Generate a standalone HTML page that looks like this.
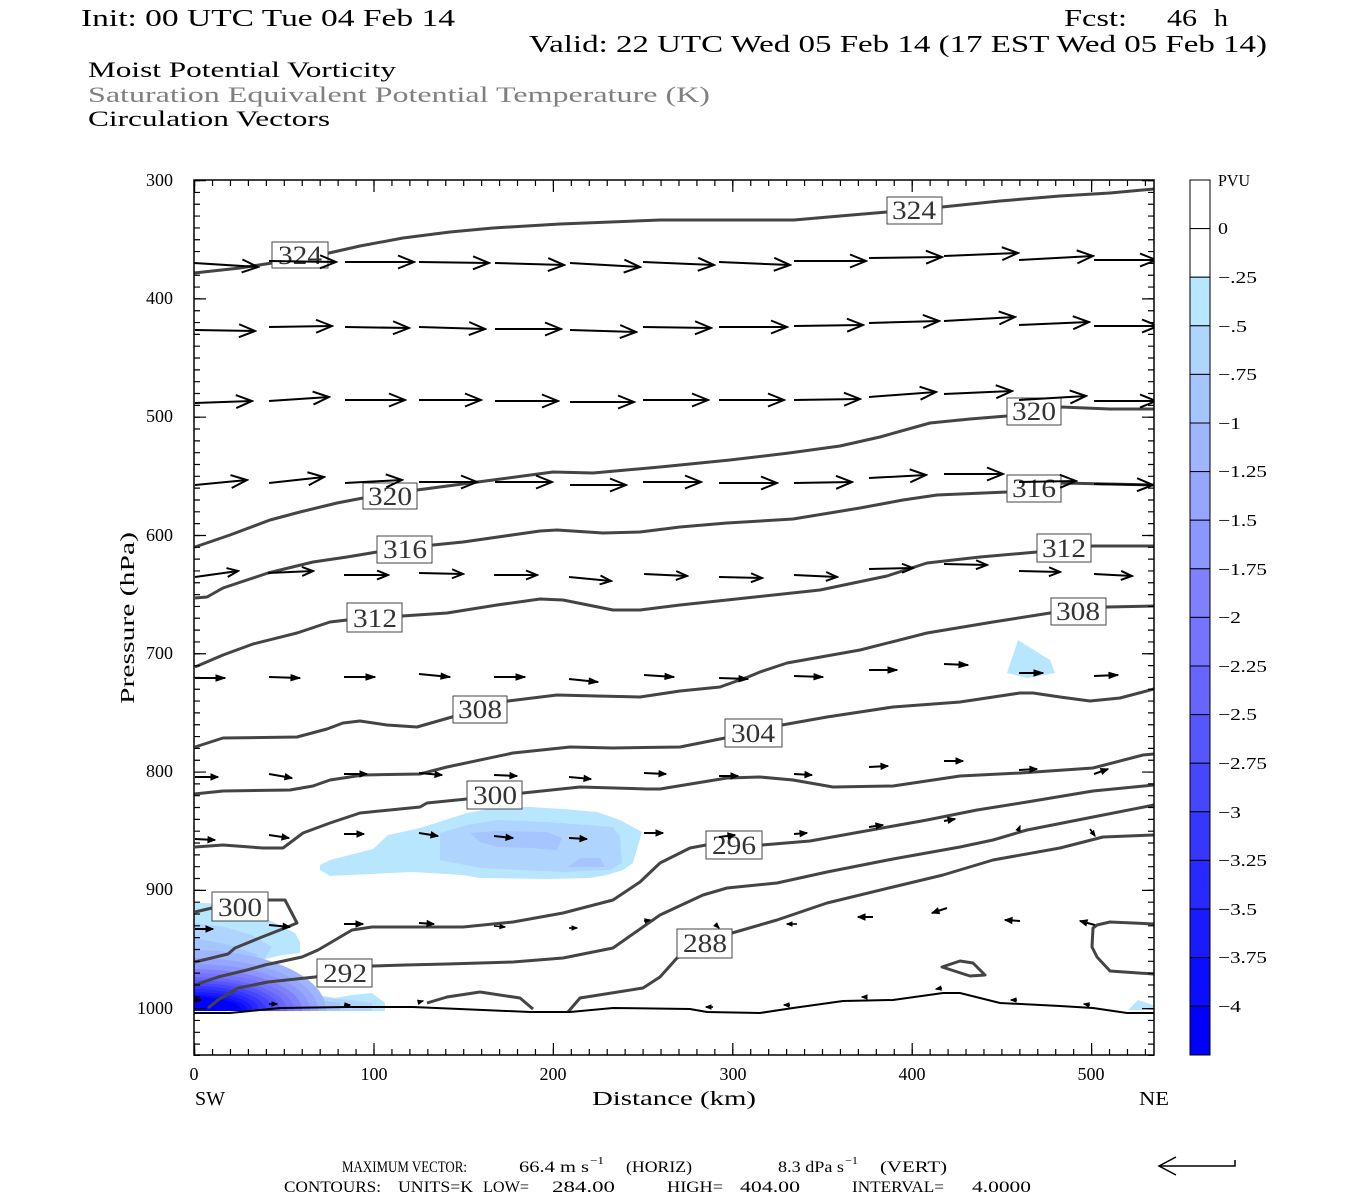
<!DOCTYPE html>
<html><head><meta charset="utf-8"><style>
html,body{margin:0;padding:0;background:#fff;}
svg{display:block;}
</style></head><body>
<svg width="1350" height="1200" viewBox="0 0 1350 1200" xmlns="http://www.w3.org/2000/svg" font-family="'Liberation Serif','DejaVu Serif',serif">
<defs>
<marker id="mL" markerUnits="userSpaceOnUse" markerWidth="20" markerHeight="17" viewBox="-2 -2 20 17" refX="16" refY="6.5" orient="auto"><path d="M0,0 L16,6.5 L0,13" fill="none" stroke="#000" stroke-width="2"/></marker>
<marker id="mM" markerUnits="userSpaceOnUse" markerWidth="15" markerHeight="13" viewBox="-2 -2 15 13" refX="11" refY="4.5" orient="auto"><path d="M0,0 L11,4.5 L0,9" fill="none" stroke="#000" stroke-width="2"/></marker>
<marker id="mS" markerUnits="userSpaceOnUse" markerWidth="11" markerHeight="8" viewBox="-1 -1 11 8" refX="9" refY="3" orient="auto"><path d="M0,0 L9,3 L0,6 Z" fill="#000" stroke="#000" stroke-width="1"/></marker>
<marker id="mX" markerUnits="userSpaceOnUse" markerWidth="9" markerHeight="8" viewBox="-1 -1 9 8" refX="7" refY="3" orient="auto"><path d="M0,0 L7,3 L0,6 Z" fill="#000" stroke="#000" stroke-width="1"/></marker>
<marker id="mT" markerUnits="userSpaceOnUse" markerWidth="7" markerHeight="6" viewBox="-1 -1 7 6" refX="5" refY="2" orient="auto"><path d="M0,0 L5,2 L0,4 Z" fill="#000" stroke="#000" stroke-width="1"/></marker>
<clipPath id="plot"><rect x="194" y="180" width="960" height="831"/></clipPath>
<clipPath id="plotall"><rect x="194" y="180" width="960" height="875"/></clipPath>
</defs>

<!-- Titles -->
<text x="81" y="26" font-size="24" textLength="374" lengthAdjust="spacingAndGlyphs">Init: 00 UTC Tue 04 Feb 14</text>
<text x="1064" y="26" font-size="24" textLength="63" lengthAdjust="spacingAndGlyphs">Fcst:</text>
<text x="1167" y="26" font-size="24" textLength="30" lengthAdjust="spacingAndGlyphs">46</text>
<text x="1214" y="26" font-size="24" textLength="14" lengthAdjust="spacingAndGlyphs">h</text>
<text x="529" y="52" font-size="24" textLength="738" lengthAdjust="spacingAndGlyphs">Valid: 22 UTC Wed 05 Feb 14 (17 EST Wed 05 Feb 14)</text>
<text x="88" y="77" font-size="22" textLength="308" lengthAdjust="spacingAndGlyphs">Moist Potential Vorticity</text>
<text x="88" y="102" font-size="22" fill="#7f7f7f" textLength="622" lengthAdjust="spacingAndGlyphs">Saturation Equivalent Potential Temperature (K)</text>
<text x="88" y="126" font-size="22" textLength="242" lengthAdjust="spacingAndGlyphs">Circulation Vectors</text>

<!-- Shading -->
<g clip-path="url(#plot)">
<polygon fill="#b9e6ff" points="320,865 330,860 373,849 388,835 420,828 467,813 500,807 530,807 563,809 597,812 620,820 642,832 633,863 623,870 607,875 590,878 547,879 480,878 463,875 413,872 330,876 320,870"/>
<polygon fill="#afd5ff" points="440,833 467,825 497,820 547,822 613,827 620,837 622,863 610,870 563,872 480,868 440,860"/>
<polygon fill="#a6c5ff" points="470,833 497,831 547,832 562,838 557,850 530,848 497,847 480,842"/>
<polygon fill="#a6c5ff" points="568,867 580,858 600,858 605,867"/>
<polygon fill="#b9e6ff" points="1018,640 1037,652 1050,660 1055,673 1027,678 1007,673"/>
<polygon fill="#b9e6ff" points="1128,1010 1138,1000 1153,1005 1153,1010"/>
<polygon fill="#b9e6ff" points="194,903 205,903 228,905 252,912 275,923 295,933 300,942 300,953 282,955 262,960 255,970 258,983 285,988 318,995 335,998 352,995 372,993 385,1003 385,1011 194,1011"/>
<polygon fill="#afd5ff" points="194,923 225,927 252,935 272,947 265,958 250,966 252,980 280,988 320,997 350,1000 372,1003 372,1011 194,1011"/>
<polygon fill="#a6c5ff" points="194,938 230,945 258,955 245,965 240,975 255,987 300,997 340,1003 340,1011 194,1011"/>
<ellipse cx="194" cy="1010" rx="132" ry="60" fill="#9fb5ff"/>
<ellipse cx="194" cy="1010" rx="124" ry="52" fill="#96a6ff"/>
<ellipse cx="194" cy="1010" rx="116" ry="46" fill="#8c96ff"/>
<ellipse cx="194" cy="1010" rx="108" ry="41" fill="#8080ff"/>
<ellipse cx="194" cy="1010" rx="100" ry="37" fill="#7474ff"/>
<ellipse cx="194" cy="1010" rx="93" ry="33" fill="#6666ff"/>
<ellipse cx="194" cy="1010" rx="86" ry="30" fill="#5656ff"/>
<ellipse cx="194" cy="1010" rx="79" ry="27" fill="#4646ff"/>
<ellipse cx="194" cy="1010" rx="72" ry="24" fill="#3636ff"/>
<ellipse cx="194" cy="1010" rx="65" ry="21" fill="#2828ff"/>
<ellipse cx="194" cy="1010" rx="59" ry="18" fill="#1a1aff"/>
<ellipse cx="194" cy="1010" rx="53" ry="15" fill="#0c0cff"/>
<ellipse cx="194" cy="1010" rx="47" ry="13" fill="#0000ff"/>
</g>

<!-- Contours -->
<g fill="none" stroke="#444" stroke-width="3" stroke-linejoin="round" clip-path="url(#plotall)">
<polyline points="194,273 240,268 272,263 300,258 329,253 360,246 403,238 450,232 493,228 560,224 660,220 794,220 840,216 887,212 942,207 1000,201 1060,196 1110,193 1154,189"/>
<polyline points="195,547 230,535 270,520 300,512 337,503 363,498 417,490 493,480 553,472 593,473 660,467 730,460 789,453 840,446 880,437 930,423 970,419 1007,416 1061,407 1110,409 1154,409"/>
<polyline points="195,598 207,597 223,588 268,573 313,562 347,557 377,552 433,545 463,542 540,531 557,530 603,533 640,532 680,527 727,523 793,519 860,508 903,500 937,495 1007,492 1061,483 1154,485"/>
<polyline points="195,667 223,655 253,644 297,633 330,622 347,620 402,616 447,613 497,605 540,599 563,600 613,610 640,610 680,605 727,600 820,590 887,576 927,563 980,557 1037,552 1093,546 1154,546"/>
<polyline points="195,747 223,738 297,737 327,729 343,723 360,721 387,725 417,727 452,717 508,701 557,695 597,696 640,697 680,691 720,687 748,677 760,672 787,663 860,650 927,633 993,622 1050,613 1107,607 1154,606"/>
<polyline points="194,794 223,791 290,790 313,786 330,780 363,775 420,774 447,767 513,753 570,747 613,748 680,747 725,738 782,725 827,717 893,707 960,702 1020,693 1033,693 1060,697 1090,701 1120,698 1154,689"/>
<polyline points="195,847 223,845 263,848 283,848 303,833 330,823 360,813 420,807 427,803 467,799 523,793 580,787 647,789 660,789 727,778 760,777 793,780 833,787 893,786 960,776 1020,773 1093,768 1143,755 1154,754"/>
<polyline points="195,912 212,908 267,900 285,900 297,923 285,928 262,937 235,948 228,954 195,962"/>
<polyline points="195,985 218,977 247,970 265,965 302,957 318,950 330,943 352,930 372,927 413,927 463,927 513,922 563,913 613,900 640,882 660,863 690,848 706,845 762,845 810,841 860,832 927,820 977,810 1027,802 1093,791 1154,785"/>
<polyline points="208,1008 218,1000 230,993 238,988 268,982 315,977 373,966 405,965 447,964 513,962 563,958 613,948 660,915 703,895 727,888 777,883 827,872 893,859 960,847 993,840 1027,830 1093,817 1154,805"/>
<polyline points="568,1012 580,998 643,988 660,977 677,958 732,933 777,920 827,903 893,887 943,875 993,860 1060,848 1103,837 1154,835"/>
<polyline points="427,1003 447,997 480,992 520,998 533,1009"/>
<polyline points="1154,924 1110,922 1097,925 1093,928 1092,947 1097,957 1110,971 1154,974"/>
<polygon points="942,967 960,961 973,963 985,975 970,976"/>
</g>
<!-- terrain line -->
<polyline fill="none" stroke="#000" stroke-width="2" points="194,1013 230,1013 280,1008 347,1007 413,1007 530,1012 570,1012 613,1008 690,1009 707,1012 760,1013 793,1008 843,1001 893,1000 943,993 960,993 1000,1003 1060,1006 1093,1008 1127,1013 1154,1013"/>

<!-- Contour labels -->
<g fill="#fff" stroke="#444" stroke-width="1">
<rect x="272" y="242" width="56" height="26"/>
<rect x="887" y="197" width="55" height="27"/>
<rect x="363" y="483" width="54" height="26"/>
<rect x="1007" y="398" width="54" height="27"/>
<rect x="377" y="536" width="55" height="27"/>
<rect x="1007" y="475" width="54" height="27"/>
<rect x="347" y="603" width="55" height="29"/>
<rect x="1037" y="534" width="54" height="28"/>
<rect x="453" y="696" width="54" height="27"/>
<rect x="1051" y="598" width="55" height="27"/>
<rect x="725" y="719" width="57" height="28"/>
<rect x="467" y="781" width="55" height="28"/>
<rect x="212" y="892" width="56" height="29"/>
<rect x="706" y="831" width="56" height="28"/>
<rect x="317" y="959" width="55" height="28"/>
<rect x="677" y="929" width="55" height="29"/>
</g>
<g font-size="26" fill="#333" text-anchor="middle">
<text x="300" y="264" textLength="44" lengthAdjust="spacingAndGlyphs">324</text>
<text x="914" y="219" textLength="44" lengthAdjust="spacingAndGlyphs">324</text>
<text x="390" y="505" textLength="44" lengthAdjust="spacingAndGlyphs">320</text>
<text x="1034" y="420" textLength="44" lengthAdjust="spacingAndGlyphs">320</text>
<text x="405" y="558" textLength="44" lengthAdjust="spacingAndGlyphs">316</text>
<text x="1034" y="497" textLength="44" lengthAdjust="spacingAndGlyphs">316</text>
<text x="375" y="627" textLength="44" lengthAdjust="spacingAndGlyphs">312</text>
<text x="1064" y="557" textLength="44" lengthAdjust="spacingAndGlyphs">312</text>
<text x="480" y="718" textLength="44" lengthAdjust="spacingAndGlyphs">308</text>
<text x="1078" y="620" textLength="44" lengthAdjust="spacingAndGlyphs">308</text>
<text x="753" y="742" textLength="44" lengthAdjust="spacingAndGlyphs">304</text>
<text x="495" y="804" textLength="44" lengthAdjust="spacingAndGlyphs">300</text>
<text x="240" y="916" textLength="44" lengthAdjust="spacingAndGlyphs">300</text>
<text x="734" y="854" textLength="44" lengthAdjust="spacingAndGlyphs">296</text>
<text x="345" y="982" textLength="44" lengthAdjust="spacingAndGlyphs">292</text>
<text x="705" y="952" textLength="44" lengthAdjust="spacingAndGlyphs">288</text>
</g>

<!-- Vectors -->
<g stroke="#000" stroke-width="2" clip-path="url(#plotall)">
<g marker-end="url(#mL)">
<line x1="194" y1="263" x2="258" y2="267"/><line x1="269" y1="261" x2="336" y2="262"/><line x1="345" y1="262" x2="414" y2="262"/><line x1="419" y1="262" x2="489" y2="263"/><line x1="495" y1="263" x2="564" y2="265"/><line x1="570" y1="263" x2="640" y2="267"/><line x1="643" y1="262" x2="714" y2="265"/><line x1="719" y1="262" x2="790" y2="265"/><line x1="794" y1="261" x2="866" y2="261"/><line x1="869" y1="258" x2="942" y2="257"/><line x1="944" y1="256" x2="1018" y2="253"/><line x1="1019" y1="260" x2="1093" y2="256"/><line x1="1094" y1="260" x2="1156" y2="260"/>
<line x1="195" y1="330" x2="255" y2="331"/><line x1="269" y1="327" x2="332" y2="326"/><line x1="345" y1="327" x2="409" y2="328"/><line x1="419" y1="327" x2="485" y2="329"/><line x1="495" y1="329" x2="561" y2="329"/><line x1="570" y1="330" x2="636" y2="332"/><line x1="643" y1="327" x2="711" y2="328"/><line x1="719" y1="327" x2="787" y2="327"/><line x1="794" y1="326" x2="863" y2="325"/><line x1="869" y1="323" x2="939" y2="321"/><line x1="944" y1="321" x2="1015" y2="317"/><line x1="1019" y1="325" x2="1089" y2="322"/><line x1="1094" y1="326" x2="1158" y2="326"/>
<line x1="195" y1="403" x2="252" y2="401"/><line x1="269" y1="401" x2="329" y2="397"/><line x1="345" y1="400" x2="405" y2="400"/><line x1="419" y1="400" x2="481" y2="400"/><line x1="495" y1="401" x2="558" y2="401"/><line x1="570" y1="402" x2="634" y2="402"/><line x1="643" y1="400" x2="708" y2="400"/><line x1="719" y1="400" x2="784" y2="400"/><line x1="794" y1="400" x2="860" y2="399"/><line x1="869" y1="397" x2="936" y2="392"/><line x1="944" y1="394" x2="1012" y2="391"/><line x1="1019" y1="400" x2="1086" y2="396"/><line x1="1094" y1="401" x2="1156" y2="401"/>
<line x1="195" y1="485" x2="247" y2="480"/><line x1="269" y1="483" x2="324" y2="477"/><line x1="345" y1="483" x2="402" y2="480"/><line x1="419" y1="482" x2="477" y2="482"/><line x1="495" y1="482" x2="552" y2="482"/><line x1="570" y1="485" x2="626" y2="485"/><line x1="643" y1="482" x2="701" y2="482"/><line x1="719" y1="483" x2="777" y2="483"/><line x1="794" y1="483" x2="852" y2="482"/><line x1="869" y1="478" x2="926" y2="475"/><line x1="944" y1="474" x2="1003" y2="474"/><line x1="1019" y1="482" x2="1076" y2="481"/><line x1="1094" y1="484" x2="1153" y2="485"/>
</g>
<g marker-end="url(#mM)">
<line x1="195" y1="577" x2="238" y2="571"/><line x1="268" y1="573" x2="313" y2="571"/><line x1="344" y1="575" x2="388" y2="575"/><line x1="419" y1="573" x2="463" y2="574"/><line x1="494" y1="575" x2="537" y2="575"/><line x1="569" y1="577" x2="611" y2="581"/><line x1="644" y1="574" x2="687" y2="576"/><line x1="719" y1="577" x2="762" y2="578"/><line x1="794" y1="575" x2="837" y2="577"/><line x1="869" y1="569" x2="913" y2="568"/><line x1="944" y1="564" x2="987" y2="565"/><line x1="1019" y1="571" x2="1060" y2="572"/><line x1="1094" y1="574" x2="1132" y2="576"/>
</g>
<g marker-end="url(#mS)">
<line x1="195" y1="678" x2="225" y2="678"/><line x1="269" y1="677" x2="300" y2="678"/><line x1="344" y1="677" x2="375" y2="677"/><line x1="419" y1="674" x2="450" y2="677"/><line x1="494" y1="677" x2="525" y2="677"/><line x1="569" y1="679" x2="598" y2="682"/><line x1="644" y1="675" x2="674" y2="677"/><line x1="719" y1="678" x2="748" y2="679"/><line x1="794" y1="676" x2="823" y2="677"/><line x1="869" y1="670" x2="897" y2="670"/><line x1="944" y1="664" x2="968" y2="665"/><line x1="1019" y1="673" x2="1043" y2="673"/><line x1="1094" y1="676" x2="1118" y2="675"/>
</g>
<g marker-end="url(#mX)">
<line x1="195" y1="777" x2="218" y2="777"/><line x1="269" y1="774" x2="292" y2="778"/><line x1="344" y1="774" x2="367" y2="774"/><line x1="419" y1="773" x2="442" y2="775"/><line x1="494" y1="775" x2="517" y2="776"/><line x1="569" y1="777" x2="591" y2="779"/><line x1="644" y1="773" x2="666" y2="774"/><line x1="719" y1="776" x2="738" y2="776"/><line x1="794" y1="774" x2="812" y2="775"/><line x1="869" y1="767" x2="888" y2="766"/><line x1="944" y1="761" x2="963" y2="761"/><line x1="1019" y1="770" x2="1037" y2="769"/><line x1="1094" y1="774" x2="1108" y2="769"/>
<line x1="195" y1="839" x2="215" y2="840"/><line x1="269" y1="835" x2="289" y2="838"/><line x1="344" y1="834" x2="364" y2="834"/><line x1="419" y1="833" x2="438" y2="836"/><line x1="494" y1="836" x2="513" y2="838"/><line x1="569" y1="838" x2="587" y2="839"/><line x1="644" y1="833" x2="663" y2="833"/><line x1="719" y1="837" x2="735" y2="835"/><line x1="794" y1="834" x2="807" y2="833"/><line x1="869" y1="827" x2="883" y2="825"/><line x1="944" y1="821" x2="955" y2="819"/>
<line x1="195" y1="929" x2="213" y2="929"/><line x1="269" y1="925" x2="290" y2="927"/><line x1="344" y1="924" x2="363" y2="924"/><line x1="419" y1="923" x2="434" y2="924"/>
<line x1="873" y1="917" x2="858" y2="917"/><line x1="947" y1="908" x2="932" y2="913"/><line x1="1020" y1="921" x2="1005" y2="920"/><line x1="1095" y1="925" x2="1080" y2="921"/>
</g>
<g marker-end="url(#mT)" stroke-width="1.6">
<line x1="1018" y1="831" x2="1020" y2="826"/><line x1="1090" y1="829" x2="1095" y2="836"/>
<line x1="494" y1="926" x2="505" y2="927"/><line x1="569" y1="928" x2="577" y2="928"/><line x1="644" y1="921" x2="650" y2="920"/><line x1="715" y1="924" x2="719" y2="928"/><line x1="797" y1="924" x2="787" y2="924"/>
<line x1="194" y1="1000" x2="201" y2="1000"/><line x1="269" y1="1004" x2="277" y2="1004"/><line x1="344" y1="1005" x2="350" y2="1005"/><line x1="419" y1="1002" x2="423" y2="1001"/><line x1="713" y1="1007" x2="706" y2="1007"/><line x1="790" y1="1005" x2="784" y2="1005"/><line x1="867" y1="997" x2="862" y2="997"/><line x1="942" y1="988" x2="936" y2="989"/><line x1="1017" y1="1000" x2="1011" y2="1000"/><line x1="1090" y1="1005" x2="1084" y2="1004"/>
</g>
</g>

<!-- Frame and ticks -->
<rect x="194" y="180" width="960" height="875" fill="none" stroke="#000" stroke-width="1.5"/>
<g stroke="#000">
<line x1="194" y1="183" x2="1154" y2="183" stroke-width="6" stroke-dasharray="1.2 16.74"/>
<line x1="194" y1="186" x2="1154" y2="186" stroke-width="12" stroke-dasharray="1.2 178.2"/>
<line x1="194" y1="1052" x2="1154" y2="1052" stroke-width="6" stroke-dasharray="1.2 16.74"/>
<line x1="194" y1="1049" x2="1154" y2="1049" stroke-width="12" stroke-dasharray="1.2 178.2"/>
<line x1="197" y1="180" x2="197" y2="1056" stroke-width="6" stroke-dasharray="1.2 10.629"/>
<line x1="200" y1="180" x2="200" y2="1056" stroke-width="12" stroke-dasharray="1.2 117.09"/>
<line x1="1151" y1="180" x2="1151" y2="1056" stroke-width="6" stroke-dasharray="1.2 10.629"/>
<line x1="1148" y1="180" x2="1148" y2="1056" stroke-width="12" stroke-dasharray="1.2 117.09"/>
</g>

<!-- Axis labels -->
<g font-size="18" text-anchor="end">
<text x="173" y="186">300</text>
<text x="173" y="304">400</text>
<text x="173" y="422">500</text>
<text x="173" y="541">600</text>
<text x="173" y="659">700</text>
<text x="173" y="777">800</text>
<text x="173" y="895">900</text>
<text x="173" y="1014">1000</text>
</g>
<text transform="translate(134,618) rotate(-90)" font-size="20" text-anchor="middle" textLength="172" lengthAdjust="spacingAndGlyphs">Pressure (hPa)</text>
<g font-size="18" text-anchor="middle">
<text x="194" y="1080">0</text>
<text x="374" y="1080">100</text>
<text x="553" y="1080">200</text>
<text x="733" y="1080">300</text>
<text x="912" y="1080">400</text>
<text x="1091" y="1080">500</text>
</g>
<text x="195" y="1105" font-size="20" textLength="30" lengthAdjust="spacingAndGlyphs">SW</text>
<text x="592" y="1105" font-size="20" textLength="164" lengthAdjust="spacingAndGlyphs">Distance (km)</text>
<text x="1139" y="1105" font-size="20" textLength="30" lengthAdjust="spacingAndGlyphs">NE</text>

<!-- Bottom info -->
<g font-size="16">
<text x="342" y="1172" textLength="125" lengthAdjust="spacingAndGlyphs">MAXIMUM VECTOR:</text>
<text x="519" y="1172" textLength="70" lengthAdjust="spacingAndGlyphs">66.4 m s</text>
<text x="590" y="1164" font-size="11" textLength="14" lengthAdjust="spacingAndGlyphs">−1</text>
<text x="626" y="1172" textLength="66" lengthAdjust="spacingAndGlyphs">(HORIZ)</text>
<text x="778" y="1172" textLength="66" lengthAdjust="spacingAndGlyphs">8.3 dPa s</text>
<text x="845" y="1164" font-size="11" textLength="13" lengthAdjust="spacingAndGlyphs">−1</text>
<text x="880" y="1172" textLength="67" lengthAdjust="spacingAndGlyphs">(VERT)</text>
<text x="284" y="1192" textLength="97" lengthAdjust="spacingAndGlyphs">CONTOURS:</text>
<text x="398" y="1192" textLength="75" lengthAdjust="spacingAndGlyphs">UNITS=K</text>
<text x="483" y="1192" textLength="46" lengthAdjust="spacingAndGlyphs">LOW=</text>
<text x="552" y="1192" textLength="63" lengthAdjust="spacingAndGlyphs">284.00</text>
<text x="667" y="1192" textLength="56" lengthAdjust="spacingAndGlyphs">HIGH=</text>
<text x="740" y="1192" textLength="60" lengthAdjust="spacingAndGlyphs">404.00</text>
<text x="852" y="1192" textLength="92" lengthAdjust="spacingAndGlyphs">INTERVAL=</text>
<text x="972" y="1192" textLength="59" lengthAdjust="spacingAndGlyphs">4.0000</text>
</g>
<path d="M1235,1160 L1235,1166 L1159,1166 M1176,1157 L1159,1166 L1176,1175" fill="none" stroke="#000" stroke-width="1.5"/>

<!-- Colorbar -->
<g stroke="#000" stroke-width="1">
<rect x="1190" y="180" width="20" height="48.6" fill="#fff"/>
<rect x="1190" y="228.6" width="20" height="48.6" fill="#fff"/>
<rect x="1190" y="277.2" width="20" height="48.6" fill="#b9e6ff"/>
<rect x="1190" y="325.8" width="20" height="48.6" fill="#afd5ff"/>
<rect x="1190" y="374.4" width="20" height="48.6" fill="#a6c5ff"/>
<rect x="1190" y="423" width="20" height="48.6" fill="#9fb5ff"/>
<rect x="1190" y="471.6" width="20" height="48.6" fill="#96a6ff"/>
<rect x="1190" y="520.2" width="20" height="48.6" fill="#8c96ff"/>
<rect x="1190" y="568.8" width="20" height="48.6" fill="#8080ff"/>
<rect x="1190" y="617.4" width="20" height="48.6" fill="#7474ff"/>
<rect x="1190" y="666" width="20" height="48.6" fill="#6666ff"/>
<rect x="1190" y="714.6" width="20" height="48.6" fill="#5656ff"/>
<rect x="1190" y="763.2" width="20" height="48.6" fill="#4646ff"/>
<rect x="1190" y="811.8" width="20" height="48.6" fill="#3636ff"/>
<rect x="1190" y="860.4" width="20" height="48.6" fill="#2828ff"/>
<rect x="1190" y="909" width="20" height="48.6" fill="#1a1aff"/>
<rect x="1190" y="957.6" width="20" height="48.6" fill="#0c0cff"/>
<rect x="1190" y="1006.2" width="20" height="48.8" fill="#0000ff"/>
</g>
<g font-size="17">
<text x="1218" y="186" textLength="32" lengthAdjust="spacingAndGlyphs">PVU</text>
<text x="1218" y="234" textLength="10" lengthAdjust="spacingAndGlyphs">0</text>
<text x="1218" y="283" textLength="39" lengthAdjust="spacingAndGlyphs">−.25</text>
<text x="1218" y="332" textLength="29" lengthAdjust="spacingAndGlyphs">−.5</text>
<text x="1218" y="380" textLength="39" lengthAdjust="spacingAndGlyphs">−.75</text>
<text x="1218" y="429" textLength="23" lengthAdjust="spacingAndGlyphs">−1</text>
<text x="1218" y="477" textLength="49" lengthAdjust="spacingAndGlyphs">−1.25</text>
<text x="1218" y="526" textLength="39" lengthAdjust="spacingAndGlyphs">−1.5</text>
<text x="1218" y="575" textLength="49" lengthAdjust="spacingAndGlyphs">−1.75</text>
<text x="1218" y="623" textLength="23" lengthAdjust="spacingAndGlyphs">−2</text>
<text x="1218" y="672" textLength="49" lengthAdjust="spacingAndGlyphs">−2.25</text>
<text x="1218" y="720" textLength="39" lengthAdjust="spacingAndGlyphs">−2.5</text>
<text x="1218" y="769" textLength="49" lengthAdjust="spacingAndGlyphs">−2.75</text>
<text x="1218" y="818" textLength="23" lengthAdjust="spacingAndGlyphs">−3</text>
<text x="1218" y="866" textLength="49" lengthAdjust="spacingAndGlyphs">−3.25</text>
<text x="1218" y="915" textLength="39" lengthAdjust="spacingAndGlyphs">−3.5</text>
<text x="1218" y="963" textLength="49" lengthAdjust="spacingAndGlyphs">−3.75</text>
<text x="1218" y="1012" textLength="23" lengthAdjust="spacingAndGlyphs">−4</text>
</g>
</svg>
</body></html>
